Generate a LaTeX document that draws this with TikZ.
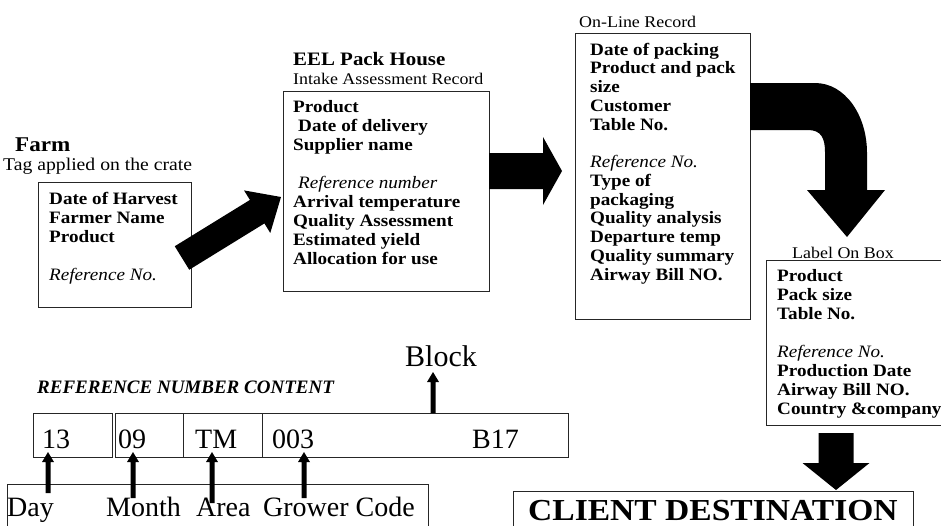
\documentclass[tikz,border=0pt]{standalone}
\usepackage{fontspec}
\setmainfont[FakeStretch=1.1]{Liberation Serif}
\newfontfamily\tnr{Liberation Serif}
\usetikzlibrary{calc}
\newcommand{\blockarrow}[5]{%
  \coordinate (bah) at ($(#2)!#5!(#1)$);
  \fill ($(#1)!#3!90:(#2)$) -- ($(bah)!#3!90:(#2)$) -- ($(bah)!#4!90:(#2)$) -- (#2)
    -- ($(bah)!#4!-90:(#2)$) -- ($(bah)!#3!-90:(#2)$) -- ($(#1)!#3!-90:(#2)$) -- cycle;}
\begin{document}
\begin{tikzpicture}[x=1pt, y=-1pt, line join=miter,
  box/.style={draw=black!85, line width=0.9pt, inner sep=0pt, anchor=north west},
  txt/.style={inner sep=0pt, anchor=base west},
  rec/.style={txt, font=\fontsize{17.4}{19}\selectfont\bfseries},
  sub/.style={txt, font=\fontsize{16.3}{19}\selectfont},
  big/.style={txt, font=\tnr\fontsize{28}{34}\selectfont}]
\useasboundingbox (0,0) rectangle (941,525);
\clip (0,0) rectangle (941,525);

% ---- Farm ----
\node[txt, font=\fontsize{21}{25}\selectfont\bfseries] (farmtitle) at (15,151) {Farm};
\node[sub, font=\fontsize{17.9}{21}\selectfont] (farmsub) at (3,170) {Tag applied on the crate};
\node[box, minimum width=153pt, minimum height=125pt] (farm) at (38,182) {};
\node[rec] (farmtxt) at (49,204) {\vtop{\hbox{Date of Harvest}\hbox{Farmer Name}\hbox{Product}\hbox{}\hbox{\mdseries\itshape Reference No.}}};

% ---- EEL Pack House ----
\node[txt, font=\fontsize{19}{23}\selectfont\bfseries] (eeltitle) at (293,65) {EEL Pack House};
\node[sub] (eelsub) at (293,84) {Intake Assessment Record};
\node[box, minimum width=206pt, minimum height=200pt] (eel) at (283,91) {};
\node[rec] (eeltxt) at (293,112) {\vtop{\hbox{Product}\hbox{\hspace{5pt}Date of delivery}\hbox{Supplier name}\hbox{}\hbox{\hspace{5pt}\mdseries\itshape Reference number}\hbox{Arrival temperature}\hbox{Quality Assessment}\hbox{Estimated yield}\hbox{Allocation for use}}};

% ---- On-Line Record ----
\node[sub] (onlsub) at (579,27) {On-Line Record};
\node[box, minimum width=175pt, minimum height=286pt] (onl) at (575,33) {};
\node[rec, font=\fontsize{17.4}{18.75}\selectfont\bfseries] (onltxt) at (590,55) {\vtop{\hbox{Date of packing}\hbox{Product and pack}\hbox{size}\hbox{Customer}\hbox{Table No.}\hbox{}\hbox{\mdseries\itshape Reference No.}\hbox{Type of}\hbox{packaging}\hbox{Quality analysis}\hbox{Departure temp}\hbox{Quality summary}\hbox{Airway Bill NO.}}};

% ---- Label On Box ----
\node[sub] (labsub) at (792,258) {Label On Box};
\node[box, minimum width=200pt, minimum height=165pt] (lab) at (766,260) {};
\node[rec] (labtxt) at (777,281) {\vtop{\hbox{Product}\hbox{Pack size}\hbox{Table No.}\hbox{}\hbox{\mdseries\itshape Reference No.}\hbox{Production Date}\hbox{Airway Bill NO.}\hbox{Country \&company}}};

% ---- Client destination ----
\node[box, minimum width=400pt, minimum height=45pt] (client) at (513,491) {};
\node[txt, font=\fontsize{30.5}{34}\selectfont\bfseries] (clienttxt) at (528,520) {CLIENT DESTINATION};

% ---- block arrows ----
\coordinate (fa1) at (182,258); \coordinate (fa2) at (281,197);
\blockarrow{fa1}{fa2}{13.8pt}{25pt}{28pt}
\coordinate (ea1) at (489,171); \coordinate (ea2) at (562,171);
\blockarrow{ea1}{ea2}{18pt}{34pt}{19pt}
\coordinate (la1) at (836,433); \coordinate (la2) at (836,490);
\blockarrow{la1}{la2}{17.5pt}{33.5pt}{27pt}
\fill (750,83) -- (815,83) .. controls (845,83) and (867,115) .. (867,153) -- (867,190)
  -- (885,190) -- (847,237) -- (807,190) -- (825,190) -- (825,152)
  .. controls (825,138) and (821,130) .. (808,130) -- (750,130) -- cycle;

% ---- Reference number content ----
\node[txt, font=\tnr\bfseries\itshape\fontsize{19}{23}\selectfont] (rnc) at (37,393) {REFERENCE NUMBER CONTENT};
\node[box, minimum width=79pt, minimum height=44pt] (c1) at (33,413) {};
\node[box, minimum width=68pt, minimum height=44pt] (c2) at (115,413) {};
\node[box, minimum width=79pt, minimum height=44pt] (c3) at (183,413) {};
\node[box, minimum width=306pt, minimum height=44pt] (c4) at (262,413) {};
\node[big] (t13) at (42,448) {13};
\node[big] (t09) at (118,448) {09};
\node[big] (tTM) at (195,448) {TM};
\node[big] (t003) at (272,448) {003};
\node[big] (tB17) at (472,448) {B17};
\node[big, font=\tnr\fontsize{30}{36}\selectfont] (block) at (405,366) {Block};
\coordinate (ba1) at (433,413); \coordinate (ba2) at (433,372);
\blockarrow{ba1}{ba2}{2.5pt}{6pt}{10pt}

\node[box, minimum width=421pt, minimum height=50pt] (legend) at (7,484) {};
\node[big] (day) at (7,516) {Day};
\node[big] (month) at (106,516) {Month};
\node[big] (area) at (196,516) {Area};
\node[big] (grower) at (263,516) {Grower Code};
\coordinate (d1) at (48,493); \coordinate (d2) at (48,452);
\blockarrow{d1}{d2}{2.5pt}{6pt}{10pt}
\coordinate (m1) at (133,498); \coordinate (m2) at (133,452);
\blockarrow{m1}{m2}{2.5pt}{6pt}{10pt}
\coordinate (a1) at (212,503); \coordinate (a2) at (212,452);
\blockarrow{a1}{a2}{2.5pt}{6pt}{10pt}
\coordinate (g1) at (304,498); \coordinate (g2) at (304,452);
\blockarrow{g1}{g2}{2.5pt}{6pt}{10pt}
\end{tikzpicture}
\end{document}
